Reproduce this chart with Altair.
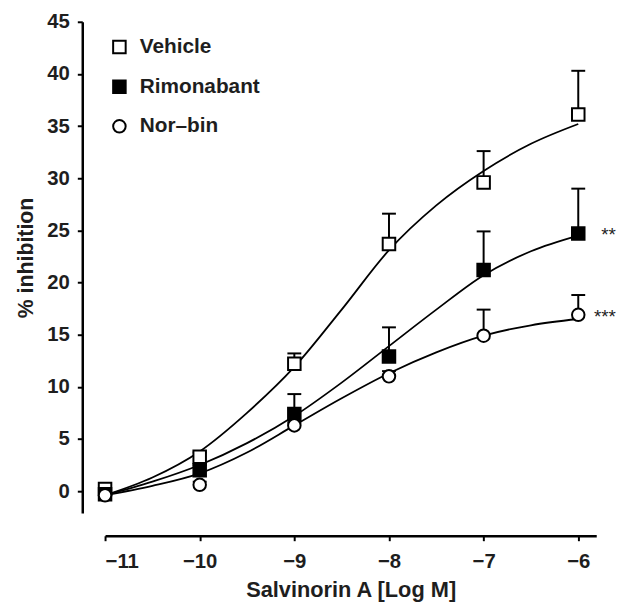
import altair as alt
import pandas as pd

# ---- data ----
series = ["Vehicle", "Rimonabant", "Nor\u2013bin"]
x_log = [-11, -10, -9, -8, -7, -6]

vehicle_mean = [0.2, 3.3, 12.2, 23.7, 29.6, 36.1]
vehicle_sem = [0.3, 0.4, 1.0, 2.9, 3.0, 4.2]
rimonabant_mean = [-0.3, 2.0, 7.4, 12.9, 21.2, 24.7]
rimonabant_sem = [0.2, 0.5, 1.9, 2.8, 3.7, 4.3]
norbin_mean = [-0.4, 0.6, 6.3, 11.0, 14.9, 16.9]
norbin_sem = [0.2, 0.3, 0.3, 0.5, 2.5, 1.9]

significance = ["", "**", "***"]  # marks at the highest dose

# fitted curves
fit_x = [-11, -10.5, -10, -9.5, -9, -8.5, -8, -7.5, -7, -6.5, -6]
vehicle_fit = [-0.4, 1.3, 3.8, 7.5, 11.9, 17.4, 23.1, 27.4, 30.7, 33.3, 35.2]
rimonabant_fit = [-0.4, 0.9, 2.5, 4.6, 7.2, 10.4, 13.9, 17.4, 20.7, 23.0, 24.5]
norbin_fit = [-0.4, 0.5, 1.7, 3.7, 6.3, 8.9, 11.3, 13.3, 14.9, 15.9, 16.5]

y_ticks = [0, 5, 10, 15, 20, 25, 30, 35, 40, 45]

# ---- tables ----
means = [vehicle_mean, rimonabant_mean, norbin_mean]
sems = [vehicle_sem, rimonabant_sem, norbin_sem]
fits = [vehicle_fit, rimonabant_fit, norbin_fit]

rows = []
for s, m, e, sig in zip(series, means, sems, significance):
    for i, x in enumerate(x_log):
        rows.append({
            "series": s, "x": x, "mean": m[i], "top": m[i] + e[i],
            "sig": sig if i == len(x_log) - 1 else "",
        })
pts = pd.DataFrame(rows)

frows = []
for s, f in zip(series, fits):
    for x, y in zip(fit_x, f):
        frows.append({"series": s, "x": x, "y": y})
fit_df = pd.DataFrame(frows)

FONT = "Liberation Sans"
INK = "#1e1e1e"

x_scale = alt.Scale(domain=[-11, -5.81], nice=False, zero=False)
y_scale = alt.Scale(domain=[-2.1, 45], nice=False, zero=False)

x_axis = alt.Axis(
    values=x_log, format="d", title="Salvinorin A [Log M]", offset=23, grid=False,
    tickSize=5, tickWidth=2, domainWidth=2.5, labelPadding=11,
    titlePadding=8, labelFontSize=20.5, titleFontSize=22,
)
y_axis = alt.Axis(
    values=y_ticks, format="d", title="% inhibition", offset=23, grid=False,
    tickSize=5, tickWidth=2, domainWidth=2.5, labelPadding=8,
    titlePadding=9, labelFontSize=20.5, titleFontSize=21.5, titleY=238,
)

X = alt.X("x:Q", scale=x_scale, axis=x_axis)

legend = alt.Legend(
    orient="none", legendX=4, legendY=15, title=None,
    labelFontSize=21, labelFontWeight="bold", labelFont=FONT, labelColor=INK,
    symbolSize=160, symbolStrokeWidth=2,
    rowPadding=18, labelOffset=10, padding=0,
)

lines = alt.Chart(fit_df).mark_line(
    color="black", strokeWidth=1.8, interpolate="monotone"
).encode(
    x=X,
    y=alt.Y("y:Q", scale=y_scale, axis=y_axis),
    detail="series:N",
)

err = alt.Chart(pts).mark_rule(color="black", strokeWidth=2).encode(
    x=alt.X("x:Q", scale=x_scale),
    y=alt.Y("mean:Q", scale=y_scale),
    y2="top:Q",
)

caps = alt.Chart(pts).mark_rule(
    color="black", strokeWidth=2, xOffset=-7, x2Offset=7
).encode(
    x=alt.X("x:Q", scale=x_scale),
    x2="x:Q",
    y=alt.Y("top:Q", scale=y_scale),
)

points = alt.Chart(pts).mark_point(
    filled=True, strokeWidth=2, size=160, opacity=1
).encode(
    x=alt.X("x:Q", scale=x_scale),
    y=alt.Y("mean:Q", scale=y_scale),
    shape=alt.Shape("series:N", sort=series,
                    scale=alt.Scale(domain=series, range=["square", "square", "circle"]),
                    legend=legend),
    fill=alt.Fill("series:N", sort=series,
                  scale=alt.Scale(domain=series, range=["white", "black", "white"]),
                  legend=legend),
    stroke=alt.Stroke("series:N", sort=series,
                      scale=alt.Scale(domain=series, range=["black", "black", "black"]),
                      legend=legend),
)

stars = alt.Chart(pts).transform_filter("datum.sig != ''").mark_text(
    align="right", baseline="middle", dx=38, dy=2, fontSize=19, font=FONT, color=INK
).encode(
    x=alt.X("x:Q", scale=x_scale),
    y=alt.Y("mean:Q", scale=y_scale),
    text="sig:N",
)

chart = alt.layer(lines, err, caps, points, stars).properties(
    width=496, height=496,
    padding={"left": 98, "top": 11, "right": 25, "bottom": 90},
    autosize=alt.AutoSizeParams(type="none"),
).configure_view(stroke=None).configure_axis(
    domainColor="black", tickColor="black", labelColor=INK, titleColor=INK,
    labelFont=FONT, titleFont=FONT, labelFontWeight="bold", titleFontWeight="bold",
)

chart.save("out.html", embed_options={"renderer": "svg", "actions": False})
